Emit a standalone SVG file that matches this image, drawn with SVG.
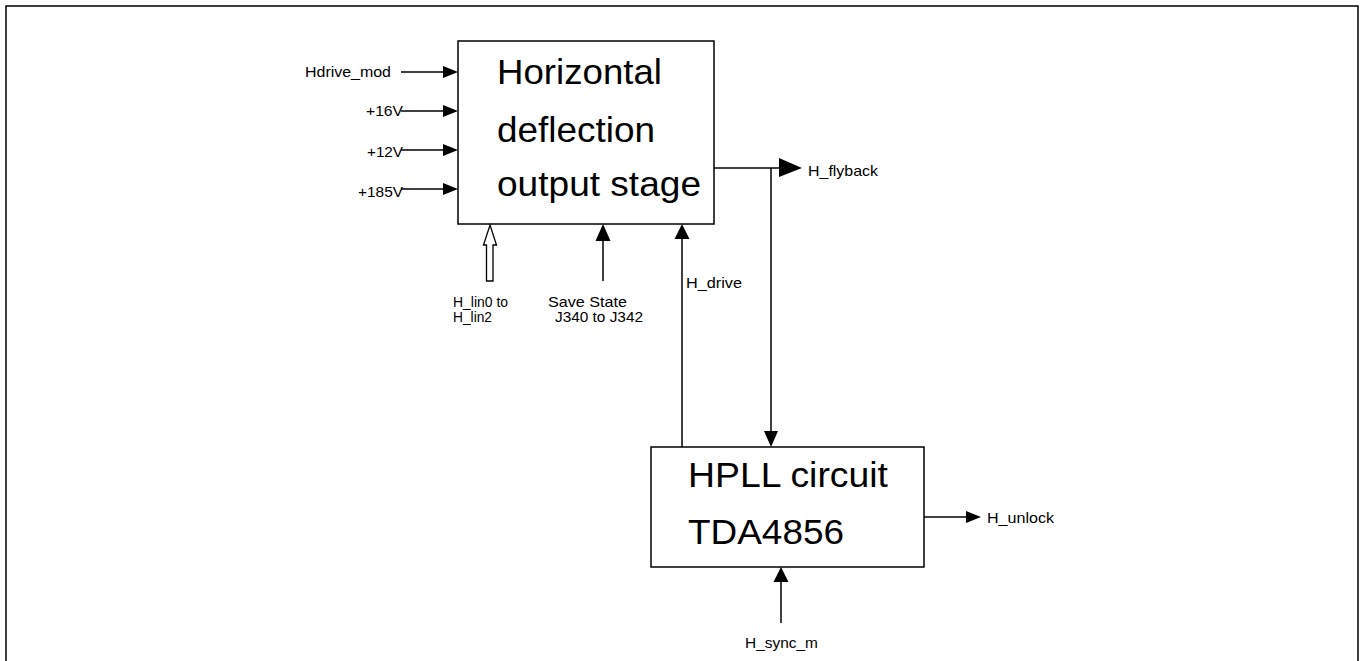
<svg xmlns="http://www.w3.org/2000/svg" width="1362" height="661" viewBox="0 0 1362 661">
<style>
.box{fill:#fff;stroke:#000;stroke-width:1.5}
.ln{fill:none;stroke:#000;stroke-width:1.5}
.hd{fill:#000;stroke:none}
.big{font-family:"Liberation Sans",Arial,sans-serif;font-size:35px;fill:#000}
.sm{font-family:"Liberation Sans",Arial,sans-serif;font-size:15px;fill:#000}
</style>
<rect width="1362" height="661" fill="#fff"/>
<g id="frame">
<polyline class="ln" points="6,661 6,6 1358,6 1358,661" stroke-width="2"/>
</g>
<g id="node-hdef">
<rect class="box" x="458" y="41" width="256" height="183"/>
<text class="big" x="497" y="84" textLength="165" lengthAdjust="spacingAndGlyphs">Horizontal</text>
<text class="big" x="497" y="142" textLength="158" lengthAdjust="spacingAndGlyphs">deflection</text>
<text class="big" x="497" y="196" textLength="204" lengthAdjust="spacingAndGlyphs">output stage</text>
</g>
<g id="node-hpll">
<rect class="box" x="651" y="447" width="273" height="120"/>
<text class="big" x="688" y="487" textLength="200" lengthAdjust="spacingAndGlyphs">HPLL circuit</text>
<text class="big" x="688" y="544" textLength="156" lengthAdjust="spacingAndGlyphs">TDA4856</text>
</g>
<g id="connectors">
<line class="ln" x1="401" y1="72" x2="444" y2="72"/>
<polygon class="hd" points="443,66 458,72 443,78"/>
<line class="ln" x1="401" y1="111" x2="444" y2="111"/>
<polygon class="hd" points="443,105 458,111 443,117"/>
<line class="ln" x1="401" y1="150" x2="444" y2="150"/>
<polygon class="hd" points="443,144 458,150 443,156"/>
<line class="ln" x1="401" y1="189" x2="444" y2="189"/>
<polygon class="hd" points="443,183 458,189 443,195"/>
<polygon fill="#fff" stroke="#000" stroke-width="1.3" points="490,225 496.5,245 493,245 493,281 486.5,281 486.5,245 483.5,245"/>
<line class="ln" x1="603" y1="281" x2="603" y2="240"/>
<polygon class="hd" points="603,224 610.5,241 595.5,241"/>
<line class="ln" x1="682" y1="447" x2="682" y2="238"/>
<polygon class="hd" points="682,224 689.5,239 674.5,239"/>
<polyline class="ln" points="714,168 781,168"/>
<polygon class="hd" points="779,158 802,168 779,177"/>
<line class="ln" x1="771" y1="168" x2="771" y2="432"/>
<polygon class="hd" points="764,431 778,431 771,447"/>
<line class="ln" x1="924" y1="517" x2="968" y2="517"/>
<polygon class="hd" points="966,511 981,517 966,523"/>
<line class="ln" x1="781" y1="623" x2="781" y2="580"/>
<polygon class="hd" points="781,567 788.5,582 773.5,582"/>
</g>
<g id="labels">
<text class="sm" x="305" y="77" textLength="86" lengthAdjust="spacingAndGlyphs">Hdrive_mod</text>
<text class="sm" x="366" y="116" textLength="37" lengthAdjust="spacingAndGlyphs">+16V</text>
<text class="sm" x="367" y="157" textLength="36" lengthAdjust="spacingAndGlyphs">+12V</text>
<text class="sm" x="358" y="197" textLength="45" lengthAdjust="spacingAndGlyphs">+185V</text>
<text class="sm" x="453" y="307" textLength="55" lengthAdjust="spacingAndGlyphs">H_lin0 to</text>
<text class="sm" x="453" y="322" textLength="39" lengthAdjust="spacingAndGlyphs">H_lin2</text>
<text class="sm" x="548" y="307" textLength="79" lengthAdjust="spacingAndGlyphs">Save State</text>
<text class="sm" x="555" y="322" textLength="88" lengthAdjust="spacingAndGlyphs">J340 to J342</text>
<text class="sm" x="686" y="288" textLength="56" lengthAdjust="spacingAndGlyphs">H_drive</text>
<text class="sm" x="808" y="176" textLength="70" lengthAdjust="spacingAndGlyphs">H_flyback</text>
<text class="sm" x="987" y="523" textLength="67" lengthAdjust="spacingAndGlyphs">H_unlock</text>
<text class="sm" x="745" y="648" textLength="73" lengthAdjust="spacingAndGlyphs">H_sync_m</text>
</g>
</svg>
